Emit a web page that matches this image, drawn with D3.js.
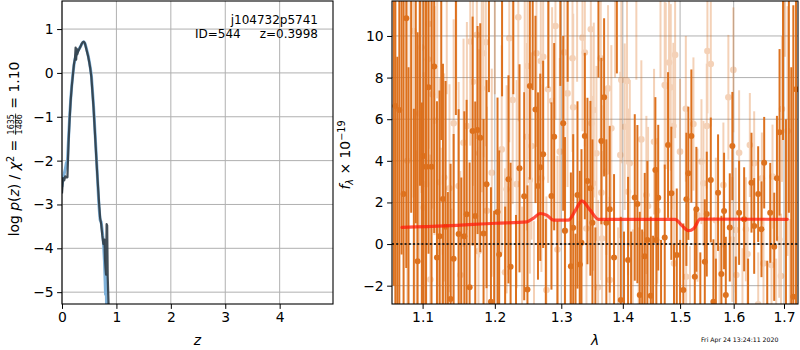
<!DOCTYPE html>
<html><head><meta charset="utf-8">
<script src="https://cdn.jsdelivr.net/npm/d3@7"></script>
<style>
body{margin:0;background:#fff}
svg{display:block;font-family:"DejaVu Sans",sans-serif}
text{white-space:pre}
</style>
</head><body>
<svg id="c" width="800" height="350"></svg>
<script>
// ---------- p(z) panel data ----------
const zDark = [0.00,0.02,0.04,0.06,0.08,0.10,0.12,0.14,0.16,0.18,0.20,0.22,0.24,0.25,0.26,0.27,0.28,0.30,0.32,0.34,0.36,0.38,0.40,0.42,0.44,0.46,0.48,0.50,0.52,0.54,0.56,0.58,0.60,0.62,0.64,0.66,0.68,0.70,0.72,0.74,0.76,0.78,0.79,0.80,0.81,0.82,0.83,0.84,0.86];
const logpDark = [-2.75,-2.40,-2.45,-2.36,-2.38,-2.38,-1.60,-1.05,-0.62,-0.30,-0.05,0.20,0.35,0.58,0.30,0.55,0.42,0.50,0.55,0.60,0.66,0.70,0.71,0.68,0.58,0.48,0.38,0.25,0.10,-0.10,-0.45,-0.80,-1.25,-1.70,-2.15,-2.55,-2.95,-3.30,-3.45,-3.70,-3.90,-3.80,-4.24,-4.45,-4.60,-3.45,-3.48,-4.65,-5.45];
const zBlue = [0.00,0.02,0.04,0.06,0.08,0.10,0.12,0.14,0.16,0.18,0.20,0.22,0.24,0.26,0.28,0.30,0.32,0.34,0.36,0.38,0.40,0.42,0.44,0.46,0.48,0.50,0.52,0.54,0.56,0.58,0.60,0.62,0.64,0.66,0.68,0.70,0.72,0.74,0.76,0.78,0.80,0.81,0.82];
const logpBlue = [-2.60,-2.40,-2.30,-2.20,-2.05,-2.00,-1.50,-1.00,-0.60,-0.28,-0.03,0.18,0.32,0.42,0.48,0.52,0.56,0.60,0.65,0.69,0.71,0.68,0.60,0.50,0.40,0.27,0.12,-0.05,-0.40,-0.75,-1.20,-1.65,-2.10,-2.60,-3.05,-3.35,-3.40,-3.60,-3.85,-4.30,-5.05,-4.60,-5.45];
const pzXTicks = [0,1,2,3,4];
const pzYTicks = [-5,-4,-3,-2,-1,0,1];
const objName = "j104732p5741";
const objId = "ID=544";
const objZ = "z=0.3998";

// ---------- spectrum panel data ----------
const darkWave = [1.0625,1.0645,1.0670,1.0696,1.0725,1.0751,1.0786,1.0815,1.0850,1.0885,1.0910,1.0934,1.0965,1.0990,1.1013,1.1045,1.1079,1.1119,1.1155,1.1192,1.1227,1.1250,1.1273,1.1309,1.1340,1.1377,1.1419,1.1450,1.1488,1.1525,1.1567,1.1599,1.1641,1.1683,1.1720,1.1753,1.1791,1.1838,1.1881,1.1915,1.1944,1.1990,1.2039,1.2063,1.2105,1.2150,1.2199,1.2230,1.2270,1.2310,1.2362,1.2432,1.2481,1.2517,1.2560,1.2602,1.2640,1.2675,1.2719,1.2760,1.2800,1.2847,1.2889,1.2940,1.2985,1.3030,1.3057,1.3100,1.3151,1.3188,1.3225,1.3256,1.3294,1.3320,1.3374,1.3416,1.3464,1.3497,1.3545,1.3595,1.3643,1.3688,1.3725,1.3781,1.3853,1.3900,1.3966,1.4020,1.4089,1.4140,1.4203,1.4248,1.4289,1.4330,1.4375,1.4420,1.4479,1.4520,1.4560,1.4577,1.4610,1.4660,1.4725,1.4784,1.4843,1.4890,1.4940,1.5000,1.5059,1.5114,1.5150,1.5205,1.5268,1.5297,1.5370,1.5453,1.5490,1.5565,1.5614,1.5660,1.5702,1.5765,1.5816,1.5849,1.5925,1.5975,1.6040,1.6105,1.6203,1.6280,1.6347,1.6400,1.6479,1.6545,1.6599,1.6660,1.6720,1.6801,1.6856,1.6909,1.6980,1.7040,1.7100,1.7150,1.7192,1.7248];
const darkFlux = [13.0,6.63,-4.0,6.44,12.5,2.4,10.85,-3.5,13.5,-4.5,12.0,-0.82,12.8,-3.2,4.23,3.72,7.53,3.72,8.53,-0.64,0.38,12.0,2.16,0.83,-3.5,-2.64,-0.71,12.2,0.48,-3.3,0.38,1.43,-2.08,5.43,1.35,5.48,5.11,0.51,2.88,12.3,-2.77,-3.4,1.54,-0.5,12.1,-3.2,3.11,-1.09,12.0,-3.1,3.64,2.3,-2.18,7.6,12.4,6.47,2.79,3.69,4.31,-3.3,12.0,2.31,5.16,-3.4,12.1,5.8,0.64,12.3,-1.06,0.78,-3.5,2.36,-0.98,0.06,5.19,3.03,2.68,1.03,-3.2,12.0,4.95,7.05,1.03,1.67,-0.64,12.2,-2.69,-3.2,-0.77,-3.4,2.24,1.92,-2.45,-3.3,-0.58,0.19,-2.48,-3.1,3.56,0.19,2.23,-3.3,0.32,4.76,2.44,-3.2,-0.53,-3.0,-2.21,2.15,3.4,5.19,-1.57,1.67,-3.4,-0.85,1.44,3.08,-2.77,-3.5,2.47,-1.44,1.59,-2.45,0.8,4.71,-3.2,1.5,1.19,-3.1,2.95,0.87,2.4,0.71,3.91,-3.0,1.5,-0.13,3.16,5.37,13.0,-4.0,13.5,-4.5,-2.53,7.44];
const darkErr = [15,14,13,13,13,12,12,12,12,11,11,11,10,10,9,9,8,8,8,7.5,7,7,6.5,7,6,6.5,6,6,6,6.5,6,5.5,6,5.5,5.5,5,5.5,5.5,5,5,5.5,5,5.5,5,5,5,5,5,4.8,4.5,5,5,5,4.5,5,4.5,4.5,4.5,4.5,4.5,4.5,4.5,4.5,4.5,4.5,4.2,4.5,4.5,4.5,4.5,4,4.5,4.5,4.5,4,4,4.2,4,4,4,4,3.8,4,4,4,4,4,3.8,4,4,4,3.8,4,4,4,3.8,3.8,3.5,3.5,3.5,3.5,3.5,3.5,3.5,3.2,3.2,3.2,3.2,3.2,3.2,3.2,3.2,3.2,3,3,3,3,3,3,2.8,2.8,2.8,2.8,2.8,2.6,2.6,2.6,2.5,2.5,2.4,2.4,2.3,2.3,2.3,2.2,2.2,2.4,2.6,3,4,8,10,12,13,14,15];

const lightWave = [1.0800,1.0840,1.0881,1.0920,1.0957,1.0983,1.1013,1.1049,1.1071,1.1079,1.1102,1.1125,1.1159,1.1195,1.1227,1.1245,1.1290,1.1325,1.1362,1.1390,1.1419,1.1455,1.1488,1.1511,1.1556,1.1603,1.1650,1.1688,1.1743,1.1766,1.1775,1.1813,1.1836,1.1871,1.1885,1.1956,1.2000,1.2050,1.2100,1.2148,1.2172,1.2211,1.2261,1.2320,1.2344,1.2400,1.2440,1.2472,1.2481,1.2517,1.2541,1.2580,1.2617,1.2683,1.2692,1.2719,1.2769,1.2795,1.2857,1.2909,1.2940,1.2977,1.3046,1.3060,1.3098,1.3140,1.3177,1.3188,1.3250,1.3290,1.3336,1.3374,1.3400,1.3471,1.3480,1.3508,1.3519,1.3562,1.3589,1.3633,1.3643,1.3654,1.3725,1.3753,1.3781,1.3808,1.3870,1.3920,1.3958,1.3975,1.4032,1.4071,1.4089,1.4118,1.4170,1.4230,1.4270,1.4316,1.4360,1.4403,1.4432,1.4490,1.4537,1.4595,1.4650,1.4725,1.4743,1.4802,1.4832,1.4879,1.4891,1.4910,1.4999,1.5104,1.5110,1.5180,1.5243,1.5317,1.5391,1.5428,1.5490,1.5502,1.5565,1.5659,1.5730,1.5803,1.5898,1.5975,1.5994,1.6040,1.6050,1.6105,1.6170,1.6237,1.6268,1.6315,1.6400,1.6480,1.6553,1.6585,1.6746,1.6766,1.6840,1.6903,1.6938,1.6958,1.7020,1.7073,1.7120];
const lightFlux = [4.0,13.0,10.24,-3.5,6.28,9.45,1.76,2.88,8.88,10.58,-1.7,7.2,5.93,12.5,2.97,-0.37,3.2,12.2,2.68,-3.3,5.8,12.4,2.79,-1.49,4.87,5.67,9.73,7.8,10.05,-0.34,4.36,7.49,9.17,9.7,1.6,3.43,12.2,-3.3,4.55,-1.36,2.63,9.89,6.92,2.88,10.9,-3.2,12.3,5.16,8.56,3.08,4.71,-3.4,9.17,8.8,3.16,9.0,-2.21,7.44,6.88,10.48,-0.26,4.44,9.21,0.64,7.24,-3.3,8.93,6.57,12.3,-3.1,9.92,9.2,0.75,10.32,5.8,2.92,6.44,4.36,-2.08,8.93,2.47,0.27,3.48,7.48,-1.73,5.56,12.0,-3.2,4.28,7.88,5.64,7.84,2.51,3.88,-3.3,11.9,-3.0,5.03,-3.2,2.36,1.83,-3.1,4.92,1.6,12.0,7.64,7.6,8.72,7.53,5.67,-0.93,9.09,4.44,6.5,-1.57,-3.3,5.77,1.39,3.96,2.92,5.67,9.28,8.65,1.15,-3.1,2.84,7.05,0.22,8.37,0.67,-1.49,4.39,-3.0,0.71,-0.48,4.76,3.88,-2.9,3.16,-0.93,-1.01,3.24,-3.2,0.22,-1.54,6.49,13.0,5.43,-3.8];
const lightErr = [9,9,8,8,7,7,6.5,6.5,6,6,6,5.5,5.5,5.5,5,5,5,5,5,5,5,5,5,5,5,5,5,5,5,5,5,5,5,5,5,5,5,5,5,5,5,5,5,5,5,5,5,4.5,4.5,4.5,4.5,4.5,4.5,4.5,4.5,4.5,4.5,4.5,4.5,4.5,4.5,4.5,4.5,4.5,4.5,4.5,4.5,4.5,4.5,4.2,4.5,4.5,4.5,4.5,4.2,4.2,4.2,4.2,4.2,4.2,4.2,4.2,4,4,4,4,4,4,4,4,4,4,4,4,4,4,3.8,3.8,3.8,3.8,3.8,3.5,3.5,3.5,4,4,4,4,4,4,3.5,4,3.5,3.5,3.5,3.2,3.2,3.2,3,3,3,3,3,3,3,3,3,3,3,3,3,3,2.8,2.5,2.5,2.5,2.5,2.5,2.2,2.2,2.2,2.5,2.5,2.8,3,3.5,4,6,5,6];

const modelWave = [1.0730,1.1305,1.2006,1.2472,1.2573,1.2673,1.2780,1.2878,1.3110,1.3220,1.3326,1.3460,1.3595,1.4910,1.5030,1.5150,1.5250,1.5365,1.7067];
const modelFlux = [0.80,0.87,1.00,1.07,1.25,1.47,1.38,1.15,1.15,1.60,2.08,1.63,1.19,1.19,0.90,0.64,0.75,1.20,1.19];

const specXTicks = [1.1,1.2,1.3,1.4,1.5,1.6,1.7];
const specYTicks = [-2,0,2,4,6,8,10];
const stamp = "Fri Apr 24 13:24:11 2020";

// ---------- drawing ----------
const svg = d3.select("#c");
const FS = 13.9;
const gridCol = "#b0b0b0";
const orange = "#dc6b14";

function panel(x0, x1, y0, y1, id) {
  svg.append("clipPath").attr("id", id).append("rect")
    .attr("x", x0).attr("y", y0).attr("width", x1 - x0).attr("height", y1 - y0);
}

// Left panel
const L = {x0: 62, x1: 333, y0: 1, y1: 304};
const xz = d3.scaleLinear().domain([0, 4.98]).range([L.x0, L.x1]);
const yp = d3.scaleLinear().domain([-5.27, 1.64]).range([L.y1, L.y0]);
panel(L.x0, L.x1, L.y0, L.y1, "clipL");

const gl = svg.append("g");
gl.selectAll(".gx").data(pzXTicks).join("line")
  .attr("x1", d => xz(d)).attr("x2", d => xz(d)).attr("y1", L.y0).attr("y2", L.y1)
  .attr("stroke", gridCol).attr("stroke-width", 1);
gl.selectAll(".gy").data(pzYTicks).join("line")
  .attr("y1", d => yp(d)).attr("y2", d => yp(d)).attr("x1", L.x0).attr("x2", L.x1)
  .attr("stroke", gridCol).attr("stroke-width", 1);

const plotL = svg.append("g").attr("clip-path", "url(#clipL)");
const lineZ = d3.line().x(d => xz(d[0])).y(d => yp(d[1]));
plotL.append("path").datum(d3.zip(zBlue, logpBlue)).attr("d", lineZ)
  .attr("fill", "none").attr("stroke", "#7fb2da").attr("stroke-width", 3).attr("stroke-linejoin", "round");
plotL.append("path").datum(d3.zip(zDark, logpDark)).attr("d", lineZ)
  .attr("fill", "none").attr("stroke", "#2e3b45").attr("stroke-width", 2.2).attr("opacity", 0.9).attr("stroke-linejoin", "round");

function styleAxis(g) {
  g.select(".domain").remove();
  g.selectAll(".tick line").attr("stroke", "#000").attr("stroke-width", 1);
  g.selectAll(".tick text").attr("fill", "#000").attr("font-size", FS).attr("font-family", "DejaVu Sans");
}
svg.append("g").attr("transform", `translate(0,${L.y1})`)
  .call(d3.axisBottom(xz).tickValues(pzXTicks).tickFormat(d3.format("d")).tickSize(4.9).tickPadding(3.5).tickSizeOuter(0))
  .call(styleAxis);
svg.append("g").attr("transform", `translate(${L.x0},0)`)
  .call(d3.axisLeft(yp).tickValues(pzYTicks).tickFormat(d3.format("d")).tickSize(4.9).tickPadding(3.5).tickSizeOuter(0))
  .call(styleAxis);
svg.append("rect").attr("x", L.x0).attr("y", L.y0).attr("width", L.x1 - L.x0).attr("height", L.y1 - L.y0)
  .attr("fill", "none").attr("stroke", "#000").attr("stroke-width", 1.1);

svg.append("text").attr("x", 318).attr("y", 23.5).attr("text-anchor", "end").attr("font-size", 12).text(objName);
svg.append("text").attr("x", 195).attr("y", 37.5).attr("font-size", 12).text(objId);
svg.append("text").attr("x", 318).attr("y", 37.5).attr("text-anchor", "end").attr("font-size", 12).text(objZ);

svg.append("text").attr("x", (L.x0 + L.x1) / 2).attr("y", 345).attr("text-anchor", "middle")
  .attr("font-size", FS).attr("font-style", "italic").text("z");

// left y label with fraction
{
  const g = svg.append("g").attr("transform", "translate(19,149) rotate(-90)");
  const t1 = g.append("text").attr("font-size", FS);
  t1.append("tspan").text("log ");
  t1.append("tspan").attr("font-style", "italic").text("p");
  t1.append("tspan").text("(");
  t1.append("tspan").attr("font-style", "italic").text("z");
  t1.append("tspan").text(") / ");
  t1.append("tspan").attr("font-style", "italic").text("χ");
  t1.append("tspan").attr("font-size", 9.7).attr("dy", -5.5).text("2");
  t1.append("tspan").attr("dy", 5.5).text(" = ");
  const num = g.append("text").attr("font-size", 8).attr("text-anchor", "middle").text("1635");
  const den = g.append("text").attr("font-size", 8).attr("text-anchor", "middle").text("1486");
  const t2 = g.append("text").attr("font-size", FS).text(" = 1.10");
  const w1 = t1.node().getComputedTextLength();
  const wf = Math.max(num.node().getComputedTextLength(), den.node().getComputedTextLength()) + 2;
  const w2 = t2.node().getComputedTextLength();
  const W = w1 + wf + w2;
  const s = -W / 2;
  t1.attr("x", s);
  const fc = s + w1 + wf / 2;
  num.attr("x", fc).attr("y", -5);
  den.attr("x", fc).attr("y", 3.3);
  g.append("line").attr("x1", s + w1 + 0.5).attr("x2", s + w1 + wf - 0.5).attr("y1", -3.4).attr("y2", -3.4)
    .attr("stroke", "#000").attr("stroke-width", 0.7);
  t2.attr("x", s + w1 + wf);
}

// Right panel
const R = {x0: 392, x1: 798, y0: 1, y1: 304};
const xl = d3.scaleLog().domain([1.0602, 1.7289]).range([R.x0, R.x1]);
const yf = d3.scaleLinear().domain([-2.88, 11.68]).range([R.y1, R.y0]);
panel(R.x0, R.x1, R.y0, R.y1, "clipR");

const gr = svg.append("g");
gr.selectAll(".gx").data(specXTicks).join("line")
  .attr("x1", d => xl(d)).attr("x2", d => xl(d)).attr("y1", R.y0).attr("y2", R.y1)
  .attr("stroke", gridCol).attr("stroke-width", 1);
gr.selectAll(".gy").data(specYTicks).join("line")
  .attr("y1", d => yf(d)).attr("y2", d => yf(d)).attr("x1", R.x0).attr("x2", R.x1)
  .attr("stroke", gridCol).attr("stroke-width", 1);

const plotR = svg.append("g").attr("clip-path", "url(#clipR)");
function series(wave, flux, err, op, r) {
  const data = d3.zip(wave, flux, err);
  const g = plotR.append("g").attr("opacity", op);
  g.selectAll("line").data(data).join("line")
    .attr("x1", d => xl(d[0])).attr("x2", d => xl(d[0]))
    .attr("y1", d => yf(d[1] - d[2])).attr("y2", d => yf(d[1] + d[2]))
    .attr("stroke", orange).attr("stroke-width", 2);
  g.selectAll("circle").data(data).join("circle")
    .attr("cx", d => xl(d[0])).attr("cy", d => yf(d[1])).attr("r", r)
    .attr("fill", orange);
}
series(lightWave, lightFlux, lightErr, 0.3, 3.3);
series(darkWave, darkFlux, darkErr, 0.95, 3);

plotR.append("line").attr("x1", R.x0).attr("x2", R.x1).attr("y1", yf(0)).attr("y2", yf(0))
  .attr("stroke", "#111").attr("stroke-width", 2).attr("stroke-dasharray", "2,2.2").attr("opacity", 0.85);

plotR.append("path").datum(d3.zip(modelWave, modelFlux))
  .attr("d", d3.line().x(d => xl(d[0])).y(d => yf(d[1])).curve(d3.curveMonotoneX))
  .attr("fill", "none").attr("stroke", "#ff1a0a").attr("stroke-width", 3.2).attr("opacity", 0.75)
  .attr("stroke-linejoin", "round").attr("stroke-linecap", "round");

svg.append("g").attr("transform", `translate(0,${R.y1})`)
  .call(d3.axisBottom(xl).tickValues(specXTicks).tickFormat(d3.format(".1f")).tickSize(4.9).tickPadding(3.5).tickSizeOuter(0))
  .call(styleAxis);
svg.append("g").attr("transform", `translate(${R.x0},0)`)
  .call(d3.axisLeft(yf).tickValues(specYTicks).tickFormat(d3.format("d")).tickSize(4.9).tickPadding(3.5).tickSizeOuter(0))
  .call(styleAxis);
svg.append("rect").attr("x", R.x0).attr("y", R.y0).attr("width", R.x1 - R.x0).attr("height", R.y1 - R.y0)
  .attr("fill", "none").attr("stroke", "#000").attr("stroke-width", 1.1);

svg.append("text").attr("x", (R.x0 + R.x1) / 2).attr("y", 345).attr("text-anchor", "middle")
  .attr("font-size", FS).attr("font-style", "italic").text("λ");

{
  const g = svg.append("g").attr("transform", "translate(350,155) rotate(-90)");
  const t = g.append("text").attr("font-size", FS).attr("text-anchor", "middle");
  t.append("tspan").attr("font-style", "italic").text("f");
  t.append("tspan").attr("font-style", "italic").attr("font-size", 9.7).attr("dy", 3).text("λ");
  t.append("tspan").attr("dy", -3).text(" × 10");
  t.append("tspan").attr("font-size", 9.7).attr("dy", -5.5).text("−19");
}

svg.append("text").attr("x", 701).attr("y", 342).attr("font-size", 6.2).text(stamp);
</script>
</body></html>
